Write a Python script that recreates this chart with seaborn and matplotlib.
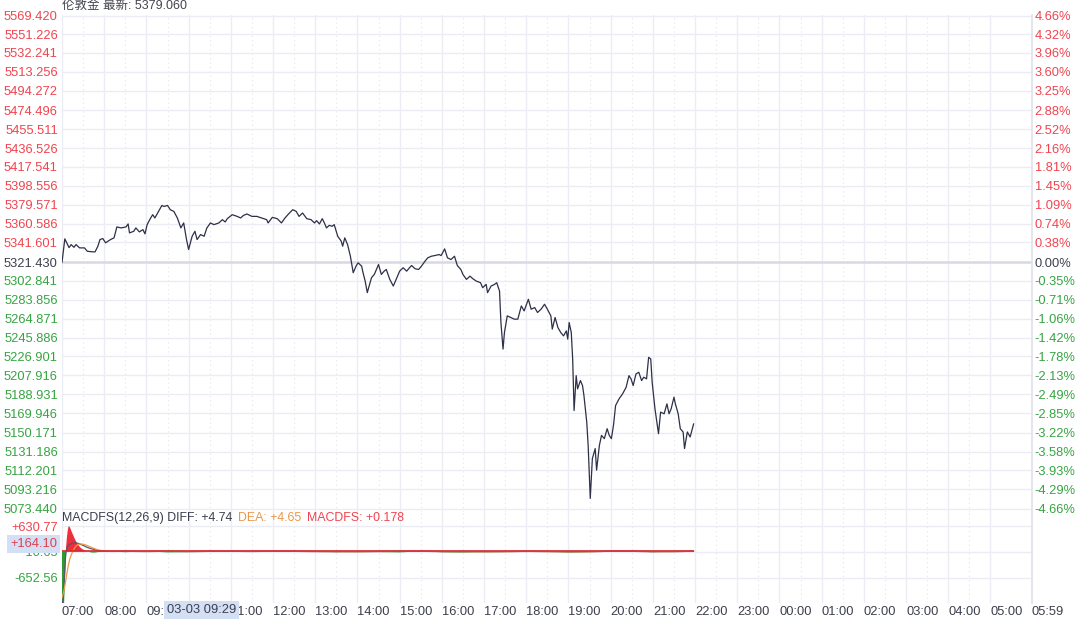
import numpy as np
import pandas as pd
import seaborn as sns
import matplotlib.pyplot as plt
from matplotlib.ticker import FixedLocator

# price line, session opens 07:00
times = [
    "07:00", "07:04", "07:10", "07:13", "07:17", "07:20", "07:25", "07:32", "07:36", "07:44",
    "07:47", "07:51", "07:54", "07:58", "08:02", "08:09", "08:14", "08:18", "08:24", "08:31",
    "08:34", "08:36", "08:42", "08:45", "08:50", "08:55", "08:58", "09:01", "09:06", "09:09",
    "09:12", "09:16", "09:22", "09:25", "09:30", "09:34", "09:39", "09:44", "09:49", "09:53",
    "09:57", "10:00", "10:05", "10:09", "10:12", "10:17", "10:22", "10:26", "10:31", "10:36",
    "10:43", "10:48", "10:52", "10:55", "11:02", "11:09", "11:14", "11:18", "11:23", "11:30",
    "11:37", "11:44", "11:51", "11:53", "11:59", "12:06", "12:12", "12:17", "12:22", "12:28",
    "12:33", "12:37", "12:42", "12:48", "12:54", "12:59", "13:02", "13:06", "13:10", "13:13",
    "13:16", "13:20", "13:24", "13:27", "13:32", "13:37", "13:39", "13:42", "13:46", "13:50",
    "13:54", "13:58", "14:01", "14:06", "14:08", "14:11", "14:14", "14:18", "14:20", "14:24",
    "14:30", "14:34", "14:38", "14:41", "14:46", "14:51", "14:56", "15:00", "15:05", "15:10",
    "15:14", "15:17", "15:22", "15:27", "15:31", "15:36", "15:40", "15:45", "15:50", "15:56",
    "15:59", "16:04", "16:08", "16:13", "16:18", "16:22", "16:27", "16:30", "16:35", "16:40",
    "16:44", "16:49", "16:55", "16:58", "17:03", "17:05", "17:10", "17:15", "17:18", "17:22",
    "17:24", "17:27", "17:29", "17:33", "17:38", "17:43", "17:48", "17:53", "17:57", "18:03",
    "18:07", "18:12", "18:16", "18:21", "18:26", "18:30", "18:35", "18:37", "18:41", "18:45",
    "18:49", "18:53", "18:57", "18:59", "19:01", "19:04", "19:06", "19:08", "19:11", "19:13",
    "19:17", "19:20", "19:22", "19:26", "19:28", "19:31", "19:34", "19:38", "19:40", "19:44",
    "19:47", "19:51", "19:55", "19:58", "20:01", "20:04", "20:07", "20:12", "20:17", "20:22",
    "20:26", "20:29", "20:32", "20:36", "20:40", "20:44", "20:47", "20:51", "20:54", "20:57",
    "20:59", "21:03", "21:05", "21:08", "21:11", "21:16", "21:20", "21:23", "21:26", "21:30",
    "21:32", "21:36", "21:39", "21:43", "21:45", "21:49", "21:53", "21:58",
]
prices = [
    5321.4, 5345.2, 5336.4, 5339.4, 5336.7, 5339.4, 5336.1, 5336.1, 5332.7, 5332.1,
    5332.1, 5337.8, 5344.5, 5345.5, 5341.2, 5344.5, 5346.2, 5357.2, 5356.2, 5357.2,
    5360.2, 5351.2, 5352.8, 5356.2, 5352.2, 5354.5, 5350.2, 5359.5, 5366.2, 5369.5,
    5366.2, 5371.2, 5378.8, 5377.8, 5378.8, 5374.5, 5372.8, 5366.2, 5356.2, 5361.2,
    5344.5, 5334.5, 5347.8, 5352.8, 5344.5, 5349.5, 5347.8, 5356.2, 5361.2, 5359.5,
    5361.2, 5364.5, 5362.2, 5365.5, 5369.5, 5367.8, 5366.2, 5368.8, 5370.2, 5367.8,
    5367.8, 5366.2, 5364.5, 5361.2, 5366.8, 5365.5, 5361.2, 5366.2, 5370.2, 5374.5,
    5372.8, 5367.8, 5371.2, 5365.5, 5364.5, 5361.2, 5363.5, 5360.2, 5365.5, 5361.2,
    5356.2, 5358.8, 5357.8, 5359.5, 5347.8, 5342.8, 5337.8, 5346.2, 5339.4, 5327.7,
    5311.1, 5317.7, 5321.1, 5317.7, 5311.1, 5302.7, 5291.1, 5301.1, 5306.1, 5309.4,
    5319.4, 5309.4, 5312.7, 5314.4, 5304.4, 5297.7, 5306.1, 5312.7, 5316.1, 5312.7,
    5316.1, 5318.4, 5315.1, 5314.4, 5317.7, 5322.7, 5326.1, 5327.7, 5328.4, 5329.4,
    5328.4, 5335.1, 5326.1, 5324.4, 5327.7, 5318.4, 5314.4, 5309.4, 5304.4, 5307.7,
    5305.1, 5302.7, 5301.1, 5296.1, 5299.4, 5291.1, 5297.7, 5299.4, 5301.1, 5292.7,
    5261.0, 5234.3, 5251.0, 5267.7, 5266.1, 5264.4, 5264.4, 5277.7, 5272.7, 5284.4,
    5274.4, 5276.1, 5271.1, 5274.4, 5279.4, 5274.4, 5267.7, 5254.4, 5266.1, 5256.0,
    5251.0, 5247.6, 5252.6, 5244.3, 5261.0, 5251.0, 5224.3, 5172.5, 5207.6, 5194.3,
    5202.6, 5197.6, 5187.6, 5160.9, 5137.5, 5084.1, 5124.2, 5134.2, 5112.5, 5137.5,
    5147.5, 5144.2, 5154.2, 5147.5, 5144.2, 5157.5, 5177.5, 5184.3, 5189.3, 5195.9,
    5207.6, 5204.3, 5197.6, 5209.3, 5211.0, 5202.6, 5206.0, 5204.3, 5226.0, 5224.3,
    5200.9, 5174.2, 5164.2, 5149.2, 5170.9, 5169.2, 5179.2, 5169.2, 5174.2, 5185.9,
    5179.2, 5169.2, 5154.2, 5150.9, 5134.2, 5150.9, 5145.9, 5159.2,
]
prev_close = 5321.43

price_labels = [
    "5569.420", "5551.226", "5532.241", "5513.256", "5494.272", "5474.496", "5455.511",
    "5436.526", "5417.541", "5398.556", "5379.571", "5360.586", "5341.601", "5321.430",
    "5302.841", "5283.856", "5264.871", "5245.886", "5226.901", "5207.916", "5188.931",
    "5169.946", "5150.171", "5131.186", "5112.201", "5093.216", "5073.440",
]
pct_labels = [
    "4.66%", "4.32%", "3.96%", "3.60%", "3.25%", "2.88%", "2.52%", "2.16%", "1.81%",
    "1.45%", "1.09%", "0.74%", "0.38%", "0.00%", "-0.35%", "-0.71%", "-1.06%", "-1.42%",
    "-1.78%", "-2.13%", "-2.49%", "-2.85%", "-3.22%", "-3.58%", "-3.93%", "-4.29%", "-4.66%",
]

# MACD panel
macd_times = [
    "07:00", "07:01", "07:02", "07:03", "07:04", "07:05", "07:06", "07:07", "07:08", "07:09",
    "07:10", "07:11", "07:12", "07:14", "07:16", "07:18", "07:20", "07:22", "07:24", "07:26",
    "07:28", "07:30", "07:33", "07:36", "07:40", "07:44", "07:48", "07:52", "07:56", "08:00",
    "08:05", "08:10", "08:30", "09:00", "09:30", "10:00", "10:30", "11:00", "11:30", "12:00",
    "12:30", "13:00", "13:30", "14:00", "14:30", "15:00", "15:30", "16:00", "16:30", "17:00",
    "17:30", "18:00", "18:30", "19:00", "19:30", "20:00", "20:30", "21:00", "21:30", "21:58",
]
diff = [
    -1300, -1250, -1100, -800, -450, -150, 20, 90, 130, 150,
    165, 175, 185, 200, 210, 215, 212, 205, 195, 180,
    165, 150, 125, 100, 75, 55, 35, 20, 10, 5,
    2, 0, 3, -2, 4, -5, 2, 3, -1, 4,
    2, -3, -6, -8, -2, 3, 4, -4, -6, -10,
    -6, 2, -4, -12, -8, 5, 3, -7, -5, 4,
]
dea = [
    -1150, -1100, -1030, -950, -860, -760, -650, -540, -440, -350,
    -270, -200, -140, -50, 30, 90, 135, 165, 180, 185,
    185, 180, 165, 145, 115, 85, 60, 38, 22, 12,
    5, 2, 2, -1, 3, -3, 2, 2, 0, 3,
    2, -2, -4, -6, -2, 2, 3, -3, -4, -8,
    -5, 1, -3, -9, -7, 4, 3, -5, -4, 4,
]
macd_hist = [
    -1300, -1300, -1300, -1300, -750, -400, 150, 350, 500, 600,
    630, 610, 570, 480, 400, 320, 250, 190, 140, 100,
    70, 45, 20, 5, -20, -30, -25, -15, -5, 0,
    0, 0, -20, 5, -25, -15, 3, -10, 4, 2,
    -5, 3, -20, 6, -15, -25, 4, -20, -25, -10,
    5, -18, 4, -25, -12, 6, 3, -20, 5, 2,
]
macd_ticks = [630.77, -10.65, -652.56]
macd_labels = ["+630.77", "-10.65", "-652.56"]

hour_labels = [
    "07:00", "08:00", "09:00", "10:00", "11:00", "12:00", "13:00", "14:00", "15:00",
    "16:00", "17:00", "18:00", "19:00", "20:00", "21:00", "22:00", "23:00", "00:00",
    "01:00", "02:00", "03:00", "04:00", "05:00", "05:59",
]

RED = '#f0444f'
GREEN = '#36a442'
DARK = '#3c3f4c'
GRID = '#ececf5'
BOX = '#d3dff5'


def to_minutes(t):
    # minutes since 07:00 session open, wrapping past midnight
    h, m = map(int, t.split(':'))
    return ((h - 7) % 24) * 60 + m


def label_color(v, base):
    if abs(v - base) < 1e-6:
        return DARK
    return RED if v > base else GREEN


df = pd.DataFrame({'t': [to_minutes(t) for t in times], 'price': prices})
mdf = pd.DataFrame({'t': [to_minutes(t) for t in macd_times], 'diff': diff,
                    'dea': dea, 'hist': macd_hist})
price_ticks = [float(s) for s in price_labels]
hour_pos = [to_minutes(s) for s in hour_labels]
half_pos = [p + 30 for p in hour_pos[:-2]]

sns.set_theme(style='white')
plt.rcParams['font.family'] = ['Liberation Sans', 'Noto Sans CJK SC', 'DejaVu Sans']

W, H = 1080, 620
fig = plt.figure(figsize=(W / 100, H / 100), dpi=100)
left, right = 62 / W, 1032 / W
ax = fig.add_axes([left, 1 - 512 / H, right - left, (512 - 15) / H])
ax2 = fig.add_axes([left, 1 - 603 / H, right - left, (603 - 512) / H], sharex=ax)

# price pane
ax.axhline(prev_close, color='#d9d9e6', lw=1.8, zorder=1)
sns.lineplot(data=df, x='t', y='price', ax=ax, color='#2d3047', lw=0.9,
             zorder=3, legend=False)
ax.set_xlim(0, hour_pos[-1])
ax.set_ylim(5070.4, 5570.4)
ax.set_yticks(price_ticks)
ax.set_yticklabels(price_labels)
for lab, v in zip(ax.get_yticklabels(), price_ticks):
    lab.set_color(label_color(v, prev_close))

axr = ax.twinx()
axr.set_ylim(ax.get_ylim())
axr.set_yticks(price_ticks)
axr.set_yticklabels(pct_labels)
for lab, v in zip(axr.get_yticklabels(), price_ticks):
    lab.set_color(label_color(v, prev_close))

# MACD pane
ax2.fill_between(mdf['t'], 0, mdf['hist'], where=mdf['hist'] >= 0,
                 color='#f02d3a', lw=0, interpolate=True, zorder=2)
ax2.fill_between(mdf['t'], 0, mdf['hist'], where=mdf['hist'] <= 0,
                 color='#2f9a2f', lw=0, interpolate=True, zorder=2)
sns.lineplot(data=mdf, x='t', y='diff', ax=ax2, color='#55586a', lw=0.9,
             zorder=3, legend=False)
sns.lineplot(data=mdf, x='t', y='dea', ax=ax2, color='#eb9a4a', lw=0.9,
             zorder=3, legend=False)
ax2.hlines(0, mdf['t'].min(), mdf['t'].max(), color='#d8262f', lw=1.2, zorder=4)
ax2.set_ylim(-1283, 981)
ax2.set_yticks(macd_ticks)
ax2.set_yticklabels(macd_labels)
for lab, v in zip(ax2.get_yticklabels(), macd_ticks):
    lab.set_color(RED if v > 0 else GREEN)

ax2.xaxis.set_major_locator(FixedLocator(hour_pos))
ax2.xaxis.set_minor_locator(FixedLocator(half_pos))
ax2.set_xticklabels(hour_labels)
plt.setp(ax2.get_xticklabels(), ha='left')

for a in (ax, ax2):
    a.set_xlabel('')
    a.set_ylabel('')
    a.grid(True, axis='y', color=GRID, lw=1)
    a.grid(True, axis='x', which='major', color=GRID, lw=1)
    a.grid(True, axis='x', which='minor', color='#e4e4ea', lw=0.8, ls=(0, (1, 3)))
    a.set_axisbelow(True)
    for s in a.spines.values():
        s.set_visible(False)
    a.spines['right'].set_visible(True)
    a.spines['right'].set_color('#e2e2ea')
    a.tick_params(axis='both', which='both', length=0, labelsize=9.3, pad=3)
axr.set_ylabel('')
for s in axr.spines.values():
    s.set_visible(False)
axr.tick_params(axis='y', length=0, labelsize=9.3, pad=2)
ax.tick_params(axis='x', labelbottom=False)
ax2.tick_params(axis='x', pad=2, colors=DARK)

# header texts
fig.text(left, 1 - 6 / H, '伦敦金 最新: 5379.060', ha='left', va='center',
         fontsize=9, color='#444650')
t1 = ax2.text(0.0, 1 - 6 / 91, 'MACDFS(12,26,9) DIFF: +4.74', transform=ax2.transAxes,
              ha='left', va='center', fontsize=8.9, color='#3a3d4e', zorder=6)
t2 = ax2.annotate('DEA: +4.65', xy=(1, 0), xycoords=t1, xytext=(4, 0),
                  textcoords='offset points', ha='left', va='bottom',
                  fontsize=8.9, color='#e9974a', zorder=6)
ax2.annotate('MACDFS: +0.178', xy=(1, 0), xycoords=t2, xytext=(4, 0),
             textcoords='offset points', ha='left', va='bottom',
             fontsize=8.9, color=RED, zorder=6)

# crosshair read-outs
fig.text(57 / W, 1 - 544 / H, '+164.10', ha='right', va='center', fontsize=9.3,
         color='#e0404c', zorder=10,
         bbox=dict(boxstyle='square,pad=0.25', fc=BOX, ec='none'))
fig.text(167 / W, 1 - 610 / H, '03-03 09:29', ha='left', va='center', fontsize=9.3,
         color=DARK, zorder=10,
         bbox=dict(boxstyle='square,pad=0.2', fc=BOX, ec='none'))

fig.savefig('out.png', dpi=100, facecolor='white')
